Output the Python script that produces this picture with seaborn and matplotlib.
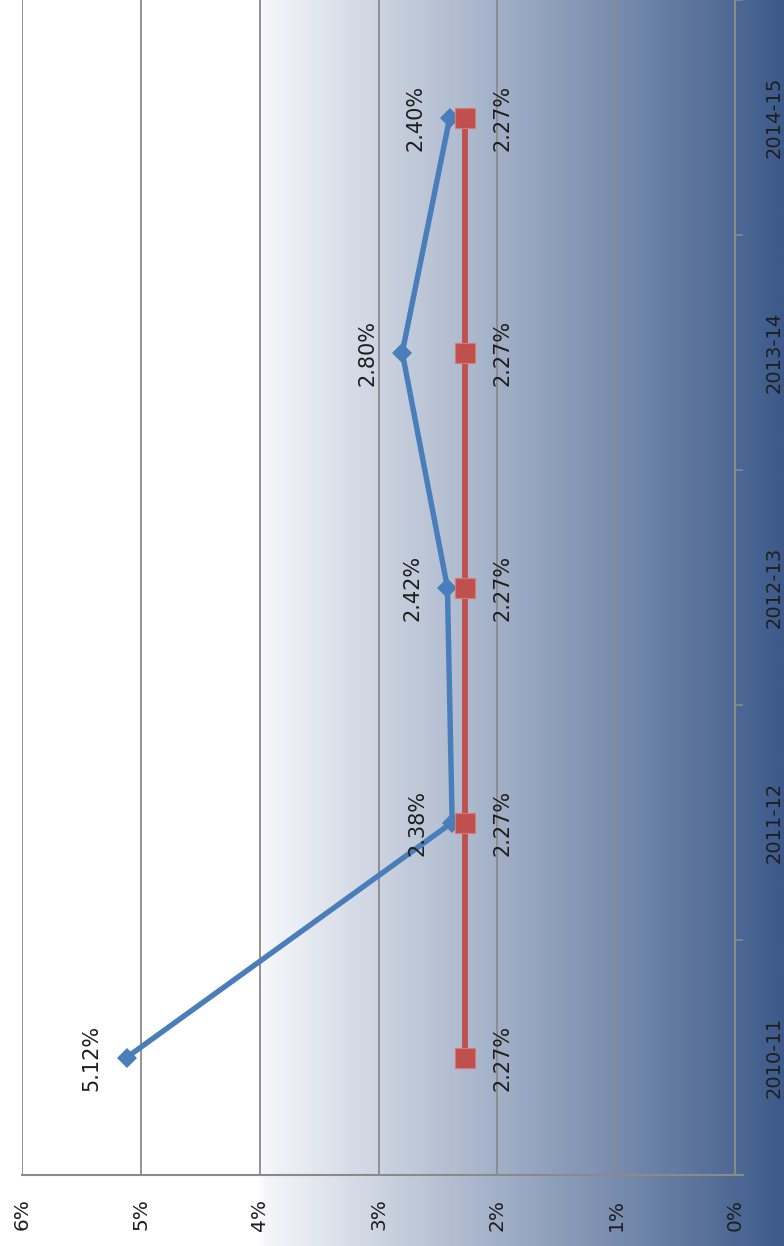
import numpy as np
import matplotlib
matplotlib.use("Agg")
import matplotlib.pyplot as plt
from matplotlib.colors import LinearSegmentedColormap
import seaborn as sns
import pandas as pd

categories = ["2010-11", "2011-12", "2012-13", "2013-14", "2014-15"]
actual = [5.12, 2.38, 2.42, 2.80, 2.40]
target = [2.27, 2.27, 2.27, 2.27, 2.27]
value_ticks = [0, 1, 2, 3, 4, 5, 6]
value_tick_labels = ["0%", "1%", "2%", "3%", "4%", "5%", "6%"]

sns.set_style("white")
plt.rcParams["font.family"] = ["DejaVu Sans"]

W, H = 784, 1246
fig = plt.figure(figsize=(W / 100, H / 100), dpi=100)

# gradient background across the whole figure (white -> dark blue, left to right)
bg = fig.add_axes([0, 0, 1, 1], zorder=0)
cmap = LinearSegmentedColormap.from_list(
    "bg", [(0.0, "#ffffff"), (0.33, "#ffffff"), (0.335, "#f6f7fa"), (1.0, "#3d5a8a")])
grad = np.linspace(0, 1, 784).reshape(1, -1)
bg.imshow(grad, aspect="auto", cmap=cmap, extent=[0, 1, 0, 1])
bg.set_axis_off()

ax = fig.add_axes([22 / W, (H - 1175) / H, 713 / W, 1175 / H], zorder=1)
ax.set_facecolor("none")

pos = np.arange(len(categories))
df_a = pd.DataFrame({"value": actual, "pos": pos})
df_t = pd.DataFrame({"value": target, "pos": pos})

sns.lineplot(data=df_a, x="value", y="pos", orient="y", sort=False, ax=ax,
             color="#4a7ebb", linewidth=3.9, marker="D", markersize=10,
             markeredgewidth=0, zorder=3)
sns.lineplot(data=df_t, x="value", y="pos", orient="y", sort=False, ax=ax,
             color="#c0504d", linewidth=4.2, marker="s", markersize=14,
             markeredgewidth=0.8, markeredgecolor="#d77a77", zorder=4)

txt_color = "#1e1e1e"
for v, p in zip(actual, pos):
    ax.annotate(f"{v:.2f}%", xy=(v, p), xytext=(-25, 0), textcoords="offset points",
                rotation=90, ha="center", va="center", fontsize=15, color=txt_color,
                zorder=5)
for v, p in zip(target, pos):
    ax.annotate(f"{v:.2f}%", xy=(v, p), xytext=(27, 0), textcoords="offset points",
                rotation=90, ha="center", va="center", fontsize=15, color=txt_color,
                zorder=5)

ax.set_xlim(6, 0)
ax.set_ylim(-0.5, len(categories) - 0.5)
ax.set_xlabel("")
ax.set_ylabel("")

grid_c = "#8a8a8a"
ax.set_xticks(value_ticks)
ax.set_xticklabels(value_tick_labels, rotation=90, fontsize=14.5, color=txt_color)
ax.tick_params(axis="x", direction="out", length=6, width=1.2, color=grid_c, pad=11)
ax.xaxis.grid(True, color=grid_c, linewidth=1.3, zorder=1)
ax.yaxis.grid(False)
ax.set_axisbelow(True)

ax.yaxis.tick_right()
ax.set_yticks(pos)
ax.set_yticklabels(categories, rotation=90, va="center", fontsize=14, color=txt_color)
ax.set_yticks(np.arange(-0.5, len(categories), 1.0), minor=True)
ax.tick_params(axis="y", which="major", length=0, pad=21)
ax.tick_params(axis="y", which="minor", direction="out", length=6, width=1.2, color=grid_c)

for s in ["top", "left"]:
    ax.spines[s].set_visible(False)
for s in ["bottom", "right"]:
    ax.spines[s].set_color(grid_c)
    ax.spines[s].set_linewidth(1.5)
ax.spines["bottom"].set_bounds(-0.07, 6)

fig.savefig("out.png", dpi=100)
